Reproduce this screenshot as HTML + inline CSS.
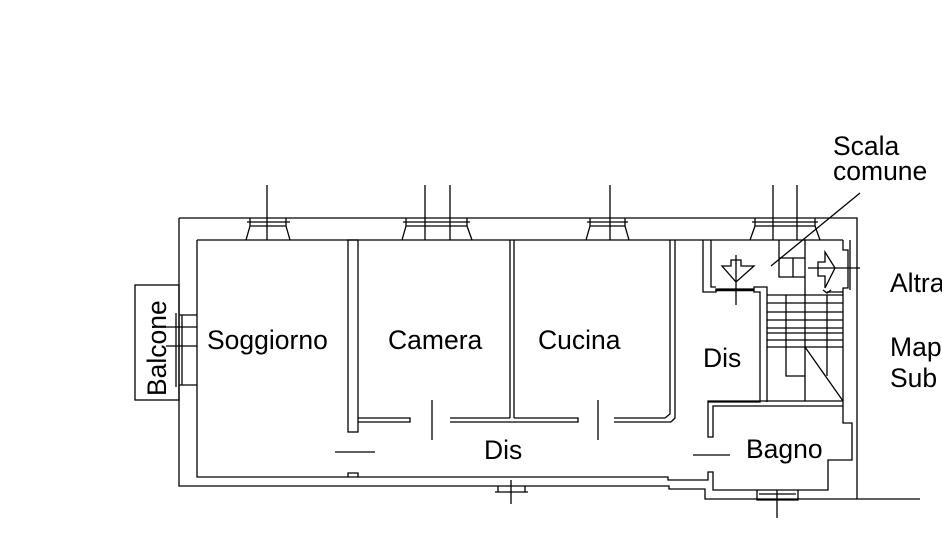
<!DOCTYPE html><html><head><style>body{margin:0;background:#fff}svg{display:block}text{font-family:"Liberation Sans",sans-serif;font-size:26.5px;fill:#000}</style></head><body>
<svg width="942" height="556" viewBox="0 0 942 556" fill="none" stroke="#000" stroke-width="1.3">
<!-- outer walls -->
<path d="M179 218H857V499H920"/>
<path d="M179 218V486H669V489H705V499H857"/>
<path d="M197 240H843"/>
<path d="M197 240V477H668V480H708V472H713V490H828V460H852V423H843V401H708V437H713V406H843"/>
<path d="M703 240V292H716V289H754V292H760V402H708"/>
<path d="M711 240V287H716M716 292V289M754 289V287H767V402"/>
<path d="M716 290H754" stroke-width="2.5"/>
<!-- balcone -->
<rect x="135" y="285" width="44" height="115"/>
<path d="M179 315H197M179 385H197M182 315V385M176 313V387M166 327H197M166 346H197"/>
<!-- top windows -->
<path d="M247 222H290M250 218V226H286V218M250 226L246 240M286 226L290 240"/>
<path d="M403 222H470M406 218V226H467V218M406 226L402 240M467 226L472 240"/>
<path d="M587 222H628M590 218V226H625V218M590 226L586 240M625 226L629 240"/>
<path d="M752 222H818M755 218V226H815V218M755 226L750 240M815 226L820 240"/>
<path d="M267 185V240M425 185V240M450 185V240M610 185V240M773 185V240M797 185V240"/>
<!-- partitions -->
<rect x="348" y="240" width="10" height="192"/>
<path d="M510 240V418M514 240V418"/>
<path d="M670 240V414L665 418M675 240V418L671 422"/>
<path d="M358 418H410V422H358M450 418H510M514 418H578V422H450M614 418H665M614 422H671"/>
<path d="M432 400V440M598 400V440M335 452H375M693 455H730"/>
<!-- bottom small features -->
<path d="M348 477V473H358V477M498 486V492H525V486M495 492H528M511 480V504"/>
<path d="M757 490V500H798V490M759 494H796M777 490V518"/>
<!-- stair -->
<path d="M843 240V250H848V288H843V401M850 240V290"/>
<path d="M767 295H843M767 303H843M767 312H843M767 320H843M767 328H843M767 333H843M767 340H843M767 347H843"/>
<path d="M786 295V376H805M805 240V401M827 295V376M805 347L843 401M827 292H843"/>
<path d="M779 240V277H805M779 258H805M793 258V277"/>
<path d="M808 268H860M823 290L827 293L831 290"/>
<path d="M825 252V262H818V276H825V288L835 268Z"/>
<path d="M736 255V305M722 266H731V260H741V266H754L736 282Z"/>
<path d="M771 266L860 193"/>
<!-- labels -->
<g stroke="none">
<text x="207" y="349">Soggiorno</text>
<text x="388" y="349">Camera</text>
<text x="538" y="349">Cucina</text>
<text x="703" y="367">Dis</text>
<text x="484" y="459">Dis</text>
<text x="746" y="458">Bagno</text>
<text x="833" y="155">Scala</text>
<text x="833" y="180">comune</text>
<text x="890" y="292">Altra</text>
<text x="890" y="356">Map</text>
<text x="890" y="387">Sub</text>
<text transform="translate(166 396) rotate(-90)">Balcone</text>
</g>
</svg></body></html>
